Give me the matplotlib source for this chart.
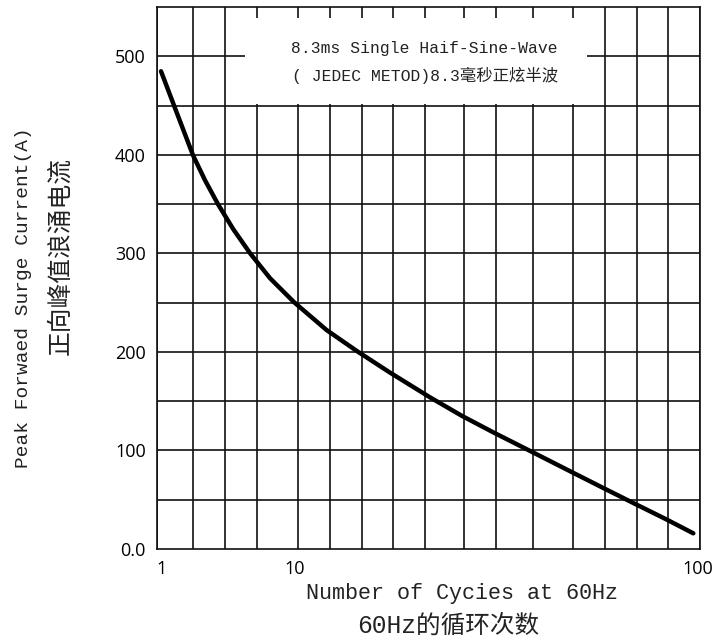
import matplotlib
matplotlib.use('Agg')
import matplotlib.pyplot as plt
from matplotlib.patches import Rectangle

# 字体：拉丁字母用等宽衬线，中文回落到思源黑体
label_font = ['Liberation Mono', 'Noto Sans CJK SC']
tick_font = ['Open Sans', 'DejaVu Sans']

# 曲线数据（横轴为图中网格位置的比例 0~1，纵轴为电流 A）
curve_x = [0.0074, 0.0331, 0.0663, 0.0884, 0.1123, 0.1405, 0.1713, 0.2081, 0.2523,
           0.3125, 0.3683, 0.4291, 0.5028, 0.5622, 0.6206, 0.6900, 0.7637, 0.8208,
           0.8785, 0.9368, 0.9877]
curve_y = [484.8, 447.5, 399.6, 374.2, 349.9, 324.5, 300.2, 274.8, 250.5,
           222.1, 200.8, 179.0, 153.9, 134.9, 118.0, 98.7, 78.1, 62.2,
           46.3, 30.4, 15.9]

# 竖向网格线位置（原图网格并非标准对数刻度）
grid_x = [0.0, 0.0663, 0.1252, 0.1842, 0.2597, 0.3186, 0.3775, 0.4346, 0.4936,
          0.5654, 0.6243, 0.6924, 0.7661, 0.8250, 0.8840, 0.9411, 1.0]
grid_y = [50, 100, 150, 200, 250, 300, 350, 400, 450, 500]

xtick_pos = [0.009, 0.254, 0.996]
xtick_labels = ['1', '10', '100']
ytick_pos = [0, 100, 200, 300, 400, 500]
ytick_labels = ['0.0', '100', '200', '300', '400', '500']

title_lines = ['8.3ms Single Haif-Sine-Wave', '( JEDEC METOD)8.3毫秒正炫半波']
xlabel_lines = ['Number of Cycies at 60Hz', '60Hz的循环次数']
ylabel_lines = ['Peak Forwaed Surge Current(A)', '正向峰值浪涌电流']

line_col = '#111111'
text_col = '#222222'

fig = plt.figure(figsize=(7.28, 6.44), dpi=100)
ax = fig.add_axes([157 / 728, 1 - 549 / 644, 543 / 728, 542 / 644])
ax.set_xlim(0, 1)
ax.set_ylim(0, 550)

ax.vlines(grid_x, 0, 550, colors=line_col, lw=1.2, zorder=1)
ax.hlines(grid_y, 0, 1, colors=line_col, lw=1.2, zorder=1)

# 标题白框
ax.add_patch(Rectangle((0.162, 452), 0.630, 87, facecolor='white', edgecolor='none', zorder=2))
ax.text(0.7385, 508, title_lines[0], ha='right', va='center', fontsize=11.8,
        family=label_font, color=text_col, zorder=3)
ax.text(0.7385, 481, title_lines[1], ha='right', va='center', fontsize=11.8,
        family=label_font, color=text_col, zorder=3)

ax.plot(curve_x, curve_y, color='black', lw=3.2, solid_capstyle='round',
        solid_joinstyle='round', zorder=4)

for s in ax.spines.values():
    s.set_linewidth(1.2)
    s.set_color(line_col)

ax.set_xticks(xtick_pos)
ax.set_xticklabels(xtick_labels, family=tick_font, fontsize=13, color='black')
ax.set_yticks(ytick_pos)
ax.set_yticklabels(ytick_labels, family=tick_font, fontsize=13, color='black')
ax.tick_params(axis='x', length=0, pad=8)
ax.tick_params(axis='y', length=0, pad=8)

fig.text(462 / 728, 1 - 594 / 644, xlabel_lines[0], ha='center', va='center',
         fontsize=15.7, family=label_font, color=text_col)
fig.text(448 / 728, 1 - 626 / 644, xlabel_lines[1], ha='center', va='center',
         fontsize=17.7, family=label_font, color=text_col, fontweight='light')
fig.text(24 / 728, 1 - 298 / 644, ylabel_lines[0], ha='center', va='center', rotation=90,
         fontsize=14, family=label_font, color=text_col)
fig.text(60 / 728, 1 - 256 / 644, ylabel_lines[1], ha='center', va='center', rotation=90,
         fontsize=17.8, family=label_font, color=text_col, fontweight='light')

fig.savefig('out.png', dpi=100)
